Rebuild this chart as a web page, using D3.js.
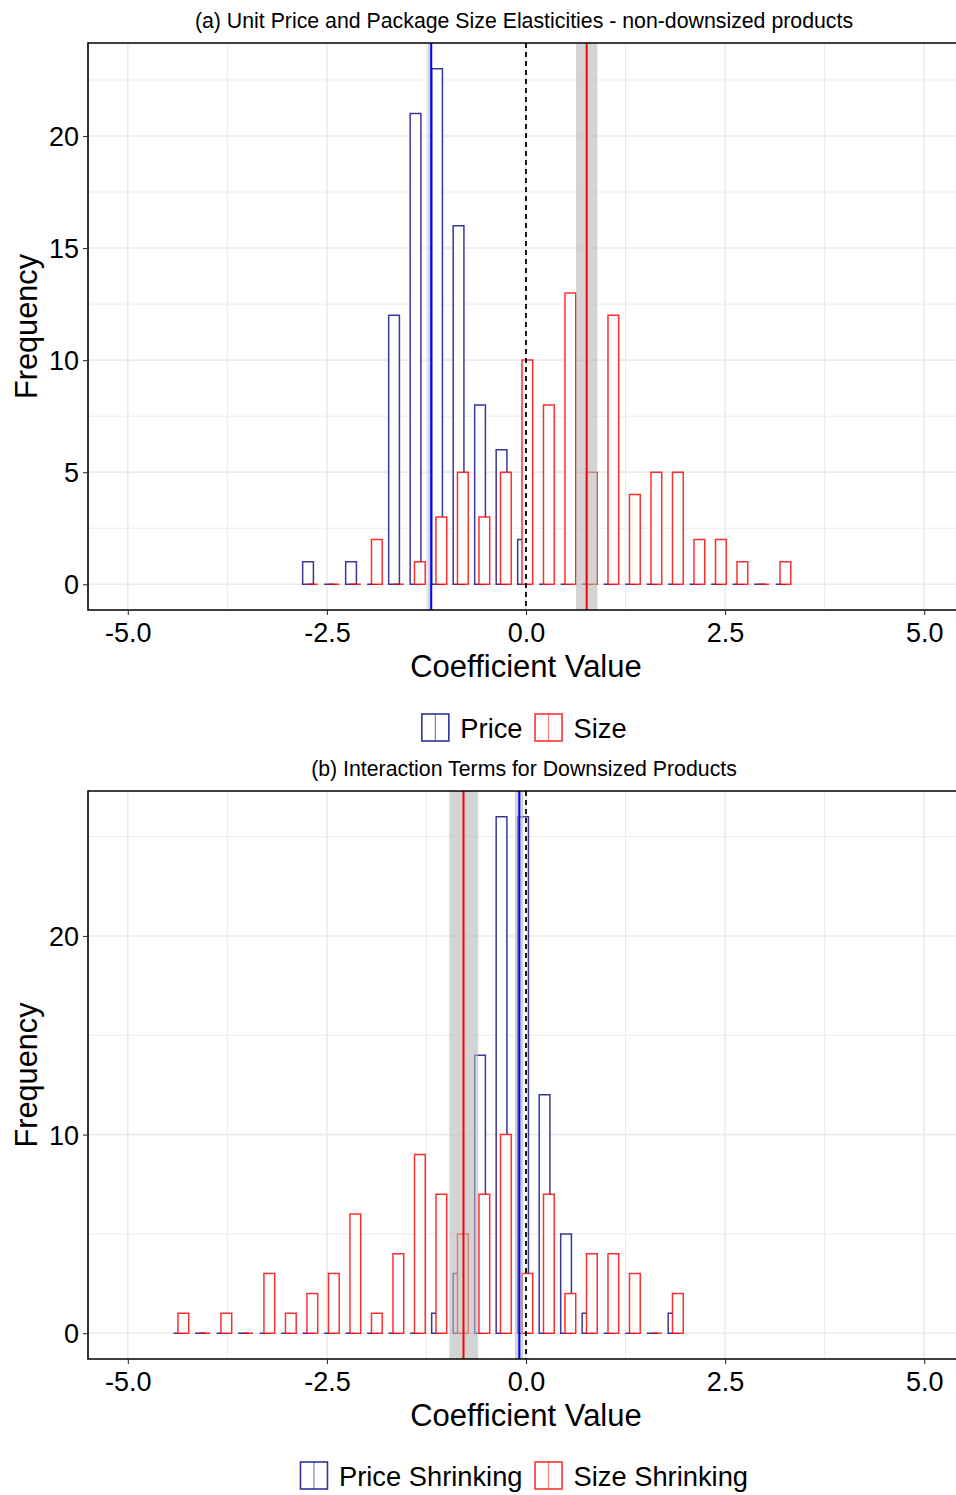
<!DOCTYPE html>
<html>
<head>
<meta charset="utf-8">
<script src="https://cdn.jsdelivr.net/npm/d3@7"></script>
<style>
  html, body { margin: 0; padding: 0; background: #fff; }
  svg text { font-family: "Liberation Sans", Arial, Helvetica, sans-serif; fill: #000; }
</style>
</head>
<body>
<script>
// Histogram bin midpoints (width 0.27) and counts per group
const binWidth = 0.27;

const binsA = [-2.71, -2.44, -2.17, -1.90, -1.63, -1.36, -1.09, -0.82, -0.55, -0.28,
               -0.01, 0.26, 0.53, 0.80, 1.07, 1.34, 1.61, 1.88, 2.15, 2.42, 2.69, 2.96, 3.23];
const priceA = [1, 0, 1, 0, 12, 21, 23, 16, 8, 6, 2, 0, 0, 0, 0, 0, 0, 0, 0, 0, 0, 0, 0];
const sizeA  = [0, 0, 0, 2, 0, 1, 3, 5, 3, 5, 10, 8, 13, 5, 12, 4, 5, 5, 2, 2, 1, 0, 1];

const binsB = [-4.33, -4.06, -3.79, -3.52, -3.25, -2.98, -2.71, -2.44, -2.17, -1.90, -1.63, -1.36,
               -1.09, -0.82, -0.55, -0.28, -0.01, 0.26, 0.53, 0.80, 1.07, 1.34, 1.61, 1.88];
const priceB = [0, 0, 0, 0, 0, 0, 0, 0, 0, 0, 0, 0, 1, 3, 14, 26, 26, 12, 5, 1, 0, 0, 0, 1];
const sizeB  = [1, 0, 1, 0, 3, 1, 2, 3, 6, 1, 4, 9, 7, 5, 7, 10, 3, 7, 2, 4, 4, 3, 0, 2];

// Mean estimates with their intervals: [estimate, low, high]
const priceRefA = [-1.19, -1.235, -1.19];
const sizeRefA  = [0.762, 0.628, 0.896];
const priceRefB = [-0.084, -0.138, -0.034];
const sizeRefB  = [-0.785, -0.962, -0.602];

const xTicks = [-5, -2.5, 0, 2.5, 5];
const xTickLabels = ["-5.0", "-2.5", "0.0", "2.5", "5.0"];
const xMinor = [-3.75, -1.25, 1.25, 3.75];
const yTicksA = [0, 5, 10, 15, 20];
const yMinorA = [2.5, 7.5, 12.5, 17.5, 22.5];
const yTicksB = [0, 10, 20];
const yMinorB = [5, 15, 25];

const titles = ["(a) Unit Price and Package Size Elasticities - non-downsized products",
                "(b) Interaction Terms for Downsized Products"];
const legendA = ["Price", "Size"];
const legendB = ["Price Shrinking", "Size Shrinking"];

const W = 956, H = 1495;
const BLUE = "#000080", RED = "#ff0000";

const svg = d3.select("body").append("svg")
  .attr("width", W).attr("height", H)
  .attr("viewBox", `0 0 ${W} ${H}`);

function drawPanel(cfg, idx) {
  const left = 88, right = 964;
  const x = d3.scaleLinear().domain([-5.5, 5.5]).range([left, right]);
  const yMax = d3.max(cfg.price.concat(cfg.size));
  const y = d3.scaleLinear().domain([-0.05 * yMax, 1.05 * yMax]).range([cfg.bottom, cfg.top]);

  const g = svg.append("g");
  const clipId = "clip" + idx;
  svg.append("clipPath").attr("id", clipId).append("rect")
    .attr("x", left).attr("y", cfg.top).attr("width", right - left).attr("height", cfg.bottom - cfg.top);

  const plot = g.append("g").attr("clip-path", `url(#${clipId})`);

  // grid
  plot.selectAll(".vmin").data(xMinor).join("line")
    .attr("x1", d => x(d)).attr("x2", d => x(d)).attr("y1", cfg.top).attr("y2", cfg.bottom)
    .attr("stroke", "#ebebeb").attr("stroke-width", 1);
  plot.selectAll(".vmaj").data(xTicks).join("line")
    .attr("x1", d => x(d)).attr("x2", d => x(d)).attr("y1", cfg.top).attr("y2", cfg.bottom)
    .attr("stroke", "#ebebeb").attr("stroke-width", 1.6);
  plot.selectAll(".hmin").data(cfg.yMinor).join("line")
    .attr("y1", d => y(d)).attr("y2", d => y(d)).attr("x1", left).attr("x2", right)
    .attr("stroke", "#ebebeb").attr("stroke-width", 1);
  plot.selectAll(".hmaj").data(cfg.yTicks).join("line")
    .attr("y1", d => y(d)).attr("y2", d => y(d)).attr("x1", left).attr("x2", right)
    .attr("stroke", "#ebebeb").attr("stroke-width", 1.6);

  // dodged histogram bars
  const half = binWidth / 4, shift = binWidth / 10;
  function barPath(c, v) {
    const x0 = x(c - half), x1 = x(c + half), y0 = y(0), y1 = y(v);
    return `M${x0},${y0}V${y1}H${x1}V${y0}Z`;
  }
  const bars = cfg.bins.map((c, i) => ({ c, p: cfg.price[i], s: cfg.size[i] }));
  plot.selectAll(".pbar").data(bars).join("path")
    .attr("d", d => barPath(d.c - shift, d.p))
    .attr("fill", "#fff").attr("stroke", BLUE).attr("stroke-opacity", 0.78).attr("stroke-width", 1.5);
  plot.selectAll(".sbar").data(bars).join("path")
    .attr("d", d => barPath(d.c + shift, d.s))
    .attr("fill", "#fff").attr("stroke", RED).attr("stroke-opacity", 0.82).attr("stroke-width", 1.5);

  // interval bands and estimate lines
  const refs = [{ r: cfg.priceRef, col: "#0000ff" }, { r: cfg.sizeRef, col: "#ff0000" }];
  plot.selectAll(".band").data(refs).join("rect")
    .attr("x", d => x(d.r[1])).attr("width", d => x(d.r[2]) - x(d.r[1]))
    .attr("y", cfg.top).attr("height", cfg.bottom - cfg.top)
    .attr("fill", "#b8b8b8").attr("fill-opacity", 0.6);
  plot.selectAll(".est").data(refs).join("line")
    .attr("x1", d => x(d.r[0])).attr("x2", d => x(d.r[0]))
    .attr("y1", cfg.top).attr("y2", cfg.bottom)
    .attr("stroke", d => d.col).attr("stroke-width", 2);
  plot.append("line")
    .attr("x1", x(0)).attr("x2", x(0)).attr("y1", cfg.top).attr("y2", cfg.bottom)
    .attr("stroke", "#000").attr("stroke-width", 1.8).attr("stroke-dasharray", "5,4");

  // panel border (top, left, bottom)
  g.append("path")
    .attr("d", `M${right},${cfg.top}H${left}V${cfg.bottom}H${right}`)
    .attr("fill", "none").attr("stroke", "#000").attr("stroke-width", 1.6);

  // axes
  const xAxis = d3.axisBottom(x).tickValues(xTicks)
    .tickFormat((d, i) => xTickLabels[i]).tickSize(5).tickPadding(4);
  const ax = g.append("g").attr("transform", `translate(0,${cfg.bottom})`).call(xAxis);
  ax.select(".domain").remove();
  ax.selectAll(".tick line").attr("stroke", "#333").attr("stroke-width", 1.1);
  ax.selectAll(".tick text").attr("font-size", 27).attr("fill", "#000")
    .attr("dy", null).attr("y", 32);

  const yAxis = d3.axisLeft(y).tickValues(cfg.yTicks).tickSize(5).tickPadding(4);
  const ay = g.append("g").attr("transform", `translate(${left},0)`).call(yAxis);
  ay.select(".domain").remove();
  ay.selectAll(".tick line").attr("stroke", "#333").attr("stroke-width", 1.1);
  ay.selectAll(".tick text").attr("font-size", 27).attr("fill", "#000")
    .attr("dy", "0.36em").attr("x", -9);

  // titles
  g.append("text").attr("x", 524).attr("y", cfg.top - 15)
    .attr("text-anchor", "middle").attr("font-size", 21.3).text(cfg.title);
  g.append("text").attr("x", 526).attr("y", cfg.bottom + 67)
    .attr("text-anchor", "middle").attr("font-size", 31).text("Coefficient Value");
  g.append("text")
    .attr("transform", `translate(37,${(cfg.top + cfg.bottom) / 2}) rotate(-90)`)
    .attr("text-anchor", "middle").attr("font-size", 30.7).text("Frequency");

  // legend
  const lg = g.append("g");
  const keySize = 28, keyGap = 11, itemGap = 12, cols = [BLUE, RED];
  let cx = 0;
  const ky = cfg.legendY - keySize / 2;
  cfg.legend.forEach((lab, i) => {
    const item = lg.append("g").attr("transform", `translate(${cx},0)`);
    item.append("rect").attr("x", 0.5).attr("y", ky).attr("width", keySize - 1).attr("height", keySize - 1)
      .attr("fill", "#fff").attr("stroke", cols[i]).attr("stroke-opacity", 0.8).attr("stroke-width", 1.6);
    item.append("line").attr("x1", keySize / 2).attr("x2", keySize / 2)
      .attr("y1", ky).attr("y2", ky + keySize - 1)
      .attr("stroke", cols[i]).attr("stroke-opacity", 0.5).attr("stroke-width", 1.2);
    const t = item.append("text").attr("x", keySize + keyGap).attr("y", cfg.legendY)
      .attr("dy", "0.36em").attr("font-size", 27.3).text(lab);
    cx += keySize + keyGap + t.node().getComputedTextLength() + itemGap;
  });
  const total = cx - itemGap;
  lg.attr("transform", `translate(${524 - total / 2},0)`);
}

drawPanel({ top: 43, bottom: 610, bins: binsA, price: priceA, size: sizeA,
  priceRef: priceRefA, sizeRef: sizeRefA, yTicks: yTicksA, yMinor: yMinorA,
  title: titles[0], legend: legendA, legendY: 728 }, 0);
drawPanel({ top: 791, bottom: 1359, bins: binsB, price: priceB, size: sizeB,
  priceRef: priceRefB, sizeRef: sizeRefB, yTicks: yTicksB, yMinor: yMinorB,
  title: titles[1], legend: legendB, legendY: 1476 }, 1);
</script>
</body>
</html>
